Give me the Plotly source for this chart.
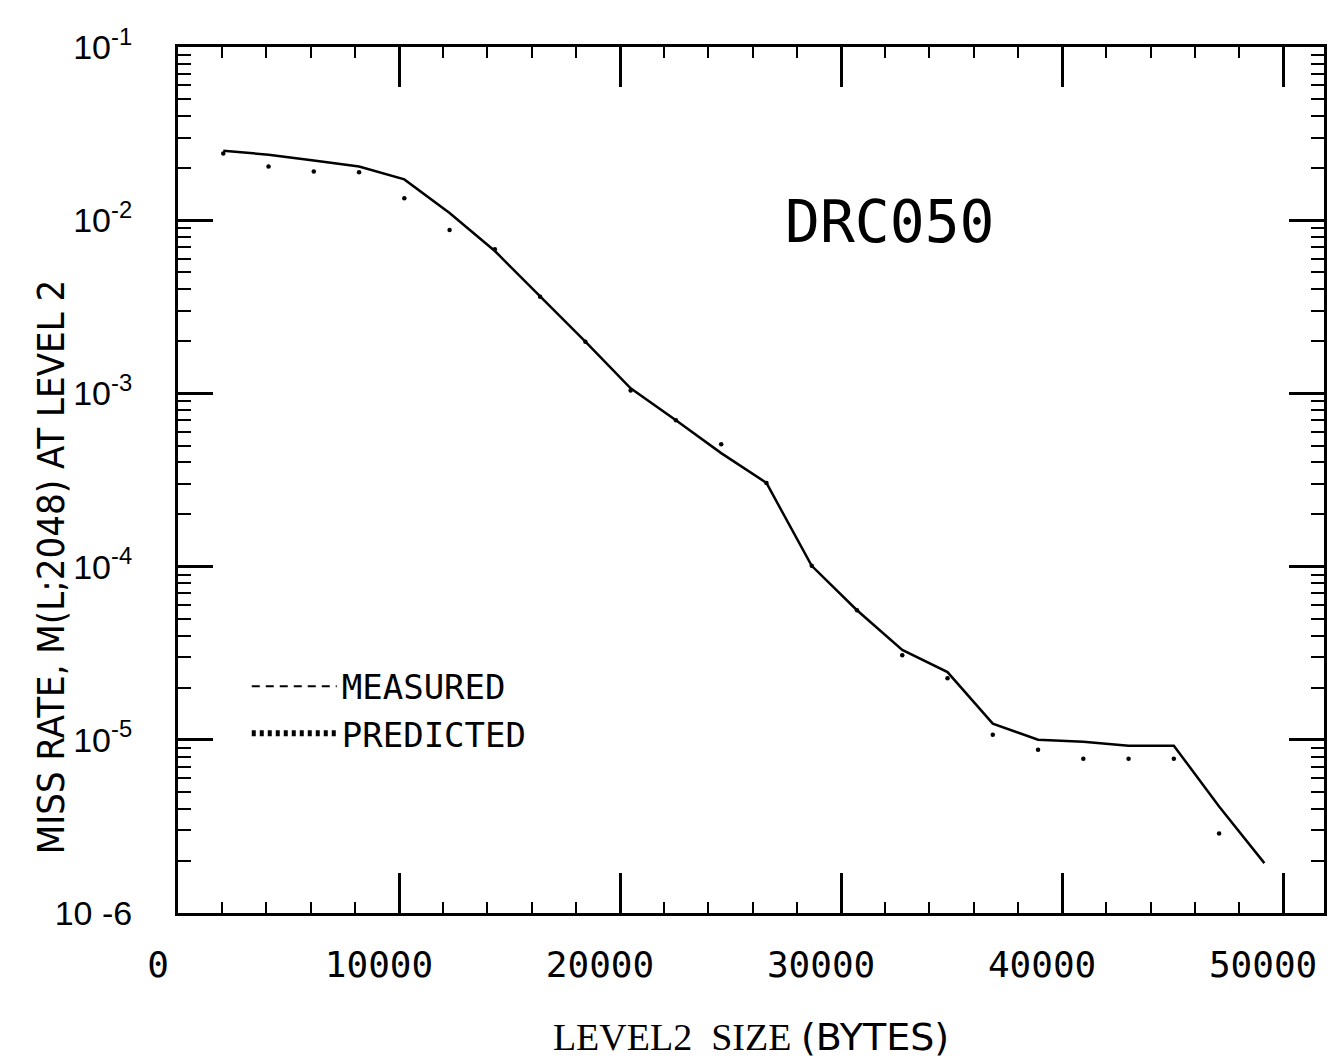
import plotly.graph_objects as go

# ---- data ----
block = 2048
steps = list(range(1, 25))
sizes = [k * block for k in steps]

measured = [0.0252, 0.0239, 0.0221, 0.0204, 0.0172, 0.0110, 0.00664, 0.00366,
            0.00199, 0.00107, 0.00070, 0.000452, 0.000304, 0.000101, 5.6e-5,
            3.3e-5, 2.46e-5, 1.24e-5, 1.0e-5, 9.75e-6, 9.25e-6, 9.25e-6,
            4.12e-6, 1.94e-6]

predicted = [0.0243, 0.0204, 0.0191, 0.0189, 0.01337, 0.00877, 0.0068, 0.00361,
             0.00199, 0.00104, 0.00070, 0.000509, 0.000304, 0.000101, 5.6e-5,
             3.08e-5, 2.27e-5, 1.07e-5, 8.77e-6, 7.78e-6, 7.78e-6, 7.78e-6,
             2.88e-6, None]

x_tickvals = [0, 10000, 20000, 30000, 40000, 50000]
x_ticktext = ["0", "10000", "20000", "30000", "40000", "50000"]
y_tickvals = [1e-1, 1e-2, 1e-3, 1e-4, 1e-5, 1e-6]
y_ticktext = ["10<sup>-1</sup>", "10<sup>-2</sup>", "10<sup>-3</sup>",
              "10<sup>-4</sup>", "10<sup>-5</sup>", "10 -6"]

MONO = "DejaVu Sans Mono, Liberation Mono, monospace"
NARROW = "Liberation Sans Narrow, DejaVu Sans Condensed, DejaVu Sans, sans-serif"

fig = go.Figure()

fig.add_trace(go.Scatter(
    x=sizes, y=measured, mode="lines", name="MEASURED",
    line=dict(color="black", width=2.5), showlegend=False))
fig.add_trace(go.Scatter(
    x=sizes, y=predicted, mode="markers", name="PREDICTED",
    marker=dict(color="black", size=4.5), showlegend=False))

# legend entries
fig.add_trace(go.Scatter(
    x=[None], y=[None], mode="lines", name="MEASURED",
    line=dict(color="black", width=2, dash="8px,6px")))
fig.add_trace(go.Scatter(
    x=[None], y=[None], mode="lines", name="PREDICTED",
    line=dict(color="black", width=6, dash="4px,4px")))

fig.update_layout(
    width=1344, height=1064,
    margin=dict(l=178, r=20, t=47, b=147),
    paper_bgcolor="white", plot_bgcolor="white",
    font=dict(family=MONO, color="black", size=30),
    legend=dict(x=0.06, y=0.295, xanchor="left", yanchor="top",
                bgcolor="rgba(0,0,0,0)", font=dict(family=MONO, size=34),
                itemwidth=85, tracegroupgap=8),
    annotations=[
        dict(text="DRC050", xref="paper", yref="paper", x=0.621, y=0.84,
             showarrow=False, font=dict(family=MONO, size=58, color="black")),
        dict(text="MISS RATE, M(L;2048) AT LEVEL 2", xref="paper", yref="paper",
             x=-0.132, y=0.40, textangle=-90, showarrow=False,
             font=dict(family=NARROW, size=38, color="black")),
    ],
)

fig.update_xaxes(
    range=[0, 51850], tickvals=x_tickvals, ticktext=x_ticktext,
    ticks="inside", ticklen=40, tickwidth=2.5, tickcolor="black",
    minor=dict(dtick=2000, ticks="inside", ticklen=11, tickwidth=2, tickcolor="black"),
    showline=True, linewidth=3, linecolor="black", mirror="ticks",
    showgrid=False, zeroline=False, ticklabelstandoff=18, ticklabelshift=-20,
    tickfont=dict(family=MONO, size=36),
    title=dict(text="LEVEL2  SIZE <span style='font-family:DejaVu Sans'>(BYTES)</span>",
               standoff=40,
               font=dict(family="Liberation Serif, Times New Roman, serif", size=38)),
)
fig.update_yaxes(
    type="log", range=[-6, -1], tickvals=y_tickvals, ticktext=y_ticktext,
    ticks="inside", ticklen=35, tickwidth=2.5, tickcolor="black",
    minor=dict(ticks="inside", ticklen=13, tickwidth=2, tickcolor="black", dtick="D1"),
    showline=True, linewidth=3, linecolor="black", mirror="ticks",
    showgrid=False, zeroline=False, ticklabelstandoff=36,
    tickfont=dict(family="Liberation Sans, DejaVu Sans, sans-serif", size=34),
)

fig.write_html("out.html")
